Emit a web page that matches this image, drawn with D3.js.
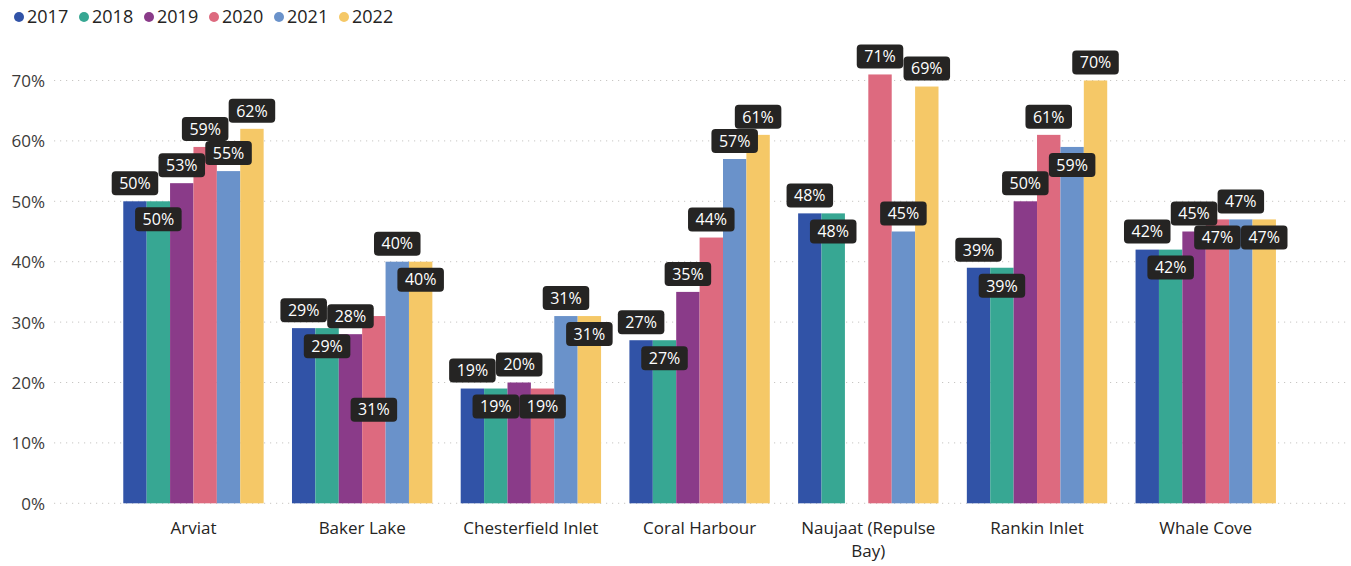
<!DOCTYPE html>
<html>
<head>
<meta charset="utf-8">
<script src="https://cdn.jsdelivr.net/npm/d3@7"></script>
<style>
  html, body { margin: 0; padding: 0; background: #ffffff; }
  svg { display: block; font-family: "Open Sans", "Noto Sans", sans-serif; }
</style>
</head>
<body>
<svg id="chart" width="1351" height="566"></svg>
<script>
const categories = ["Arviat", "Baker Lake", "Chesterfield Inlet", "Coral Harbour", "Naujaat (Repulse Bay)", "Rankin Inlet", "Whale Cove"];
const years = ["2017", "2018", "2019", "2020", "2021", "2022"];
const v2017 = [50, 29, 19, 27, 48, 39, 42];
const v2018 = [50, 29, 19, 27, 48, 39, 42];
const v2019 = [53, 28, 20, 35, null, 50, 45];
const v2020 = [59, 31, 19, 44, 71, 61, 47];
const v2021 = [55, 40, 31, 57, 45, 59, 47];
const v2022 = [62, 40, 31, 61, 69, 70, 47];
const yTicks = [0, 10, 20, 30, 40, 50, 60, 70];
const colors = ["#3153A7", "#37A793", "#8A3B89", "#DD6A7F", "#6A92CA", "#F5C867"];

const seriesValues = [v2017, v2018, v2019, v2020, v2021, v2022];

const svg = d3.select("#chart");
const plotLeft = 54, plotRight = 1346;
const y = d3.scaleLinear().domain([0, 70]).range([503.3, 80.5]);
const x0 = d3.scaleBand().domain(categories).range([109.1, 1290.1]).paddingInner(0.168).paddingOuter(0.084);
const x1 = d3.scaleBand().domain(years).range([0, x0.bandwidth()]).padding(0);
const color = d3.scaleOrdinal().domain(years).range(colors);

// gridlines
svg.append("g").selectAll("line").data(yTicks).join("line")
  .attr("x1", plotLeft).attr("x2", plotRight)
  .attr("y1", d => y(d)).attr("y2", d => y(d))
  .attr("stroke", "#C8C6C4").attr("stroke-width", 1)
  .attr("stroke-dasharray", "1.2,4.8");

// y axis
const yAxis = d3.axisLeft(y).tickValues(yTicks).tickFormat(d => d + "%").tickSize(0).tickPadding(0);
const yg = svg.append("g").attr("transform", "translate(45,0)").call(yAxis);
yg.select(".domain").remove();
yg.selectAll("text").attr("font-size", 17).attr("fill", "#3b3a39").attr("font-family", "Open Sans").attr("dy", "0.35em");

// x axis
const xAxis = d3.axisBottom(x0).tickSize(0).tickPadding(0);
const xg = svg.append("g").attr("transform", "translate(0,520)").call(xAxis);
xg.select(".domain").remove();
xg.selectAll("text").attr("font-size", 17).attr("fill", "#252423").attr("font-family", "Open Sans").attr("dy", "0.8em")
  .call(wrap, x0.step() * 0.92);

function wrap(texts, width) {
  texts.each(function() {
    const text = d3.select(this);
    const words = text.text().split(/\s+/);
    const dy = parseFloat(text.attr("dy"));
    text.text(null);
    let line = [];
    let tspan = text.append("tspan").attr("x", 0).attr("dy", dy + "em");
    for (const w of words) {
      line.push(w);
      tspan.text(line.join(" "));
      if (tspan.node().getComputedTextLength() > width && line.length > 1) {
        line.pop();
        tspan.text(line.join(" "));
        line = [w];
        tspan = text.append("tspan").attr("x", 0).attr("dy", "1.4em").text(w);
      }
    }
  });
}

// bars
const barData = [];
categories.forEach((c, ci) => {
  years.forEach((yr, si) => {
    const v = seriesValues[si][ci];
    if (v !== null && v !== undefined) barData.push({ cat: c, year: yr, value: v, ci, si });
  });
});

svg.append("g").selectAll("rect").data(barData).join("rect")
  .attr("x", d => x0(d.cat) + x1(d.year))
  .attr("y", d => y(d.value))
  .attr("width", x1.bandwidth())
  .attr("height", d => y(0) - y(d.value))
  .attr("fill", d => color(d.year));

// labels with collision avoidance
const boxH = 24, gap = 6, padX = 7.5, fs = 16;
const labelG = svg.append("g");
const placed = [];
const measure = svg.append("text").attr("font-size", fs).attr("font-family", "Open Sans").attr("visibility", "hidden");
function overlaps(a, b) {
  const tol = 1.5;
  return a.x0 < b.x1 - tol && a.x1 > b.x0 + tol && a.y0 < b.y1 - tol && a.y1 > b.y0 + tol;
}
barData.forEach(d => {
  const txt = d.value + "%";
  measure.text(txt);
  const tw = measure.node().getComputedTextLength();
  const bw = tw + padX * 2;
  const cx = x0(d.cat) + x1(d.year) + x1.bandwidth() / 2;
  const top = y(d.value), base = y(0);
  const candidates = [
    top - gap - boxH,
    top + gap,
    (top + base) / 2 - boxH / 2,
    base - gap - boxH
  ];
  let chosen = null;
  for (const cy of candidates) {
    const box = { x0: cx - bw / 2, x1: cx + bw / 2, y0: cy, y1: cy + boxH };
    if (!placed.some(p => overlaps(p, box))) { chosen = box; break; }
  }
  if (!chosen) chosen = { x0: cx - bw / 2, x1: cx + bw / 2, y0: candidates[0], y1: candidates[0] + boxH };
  placed.push(chosen);
  const g = labelG.append("g");
  g.append("rect").attr("x", chosen.x0).attr("y", chosen.y0).attr("width", bw).attr("height", boxH)
    .attr("rx", 4).attr("ry", 4).attr("fill", "#252423");
  g.append("text").attr("x", cx).attr("y", chosen.y0 + boxH / 2).attr("dy", "0.36em")
    .attr("text-anchor", "middle").attr("font-size", fs).attr("font-family", "Open Sans")
    .attr("fill", "#ffffff").text(txt);
});
measure.remove();

// legend
const legend = svg.append("g").attr("transform", "translate(19,17)");
const li = legend.selectAll("g").data(years).join("g").attr("transform", (d, i) => `translate(${i * 65},0)`);
li.append("circle").attr("r", 5).attr("fill", d => color(d));
li.append("text").attr("x", 8).attr("dy", "0.36em").attr("font-size", 18).attr("font-family", "Open Sans")
  .attr("fill", "#252423").text(d => d);
</script>
</body>
</html>
